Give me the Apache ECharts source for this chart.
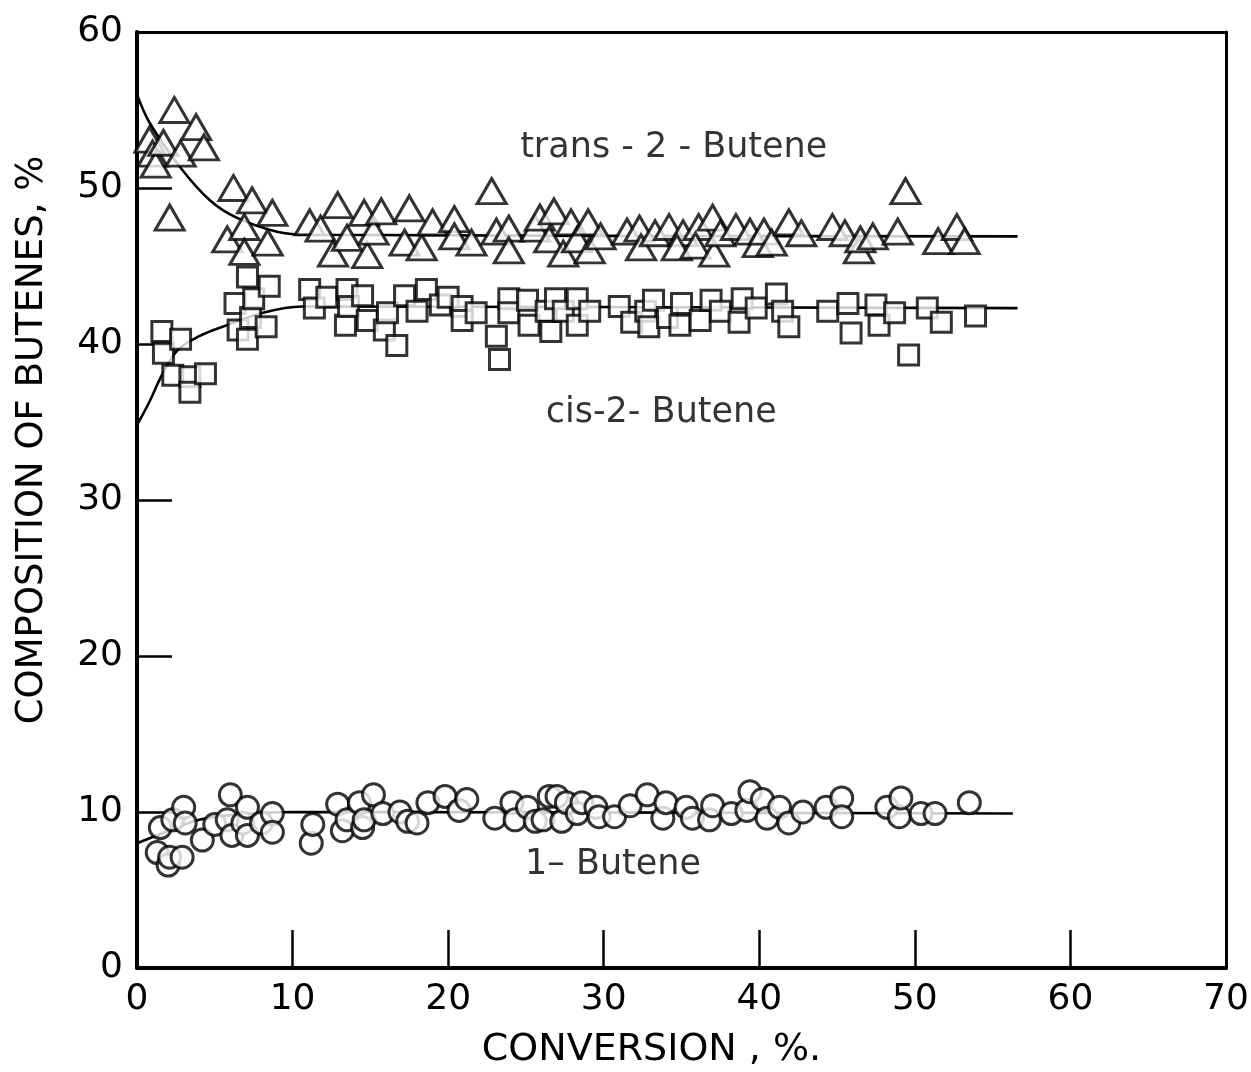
<!DOCTYPE html>
<html>
<head>
<meta charset="utf-8">
<title>Composition of butenes vs conversion</title>
<script src="https://cdn.jsdelivr.net/npm/echarts@6/dist/echarts.min.js"></script>
<style>
  html, body { margin: 0; padding: 0; background: #fff; }
  #chart { width: 1251px; height: 1072px; }
</style>
</head>
<body>
<div id="chart"></div>
<script>
// Measured butene composition (%) against conversion (%)
const transButene = [
  [0.8, 53.1], [1.0, 52.2], [1.2, 51.5], [1.7, 52.9], [2.1, 48.1], [2.4, 55.0],
  [2.8, 52.2], [3.8, 53.9], [4.3, 52.6],
  [5.8, 46.7], [6.2, 50.0], [6.9, 47.5], [6.9, 45.9], [7.4, 49.2], [8.4, 46.5], [8.7, 48.4],
  [11.1, 47.8], [11.8, 47.4], [12.6, 45.8], [12.9, 48.9], [13.5, 46.8], [14.6, 48.4],
  [14.8, 45.7], [15.2, 47.2], [15.7, 48.5], [17.2, 46.5], [17.5, 48.7], [18.3, 46.2],
  [19.0, 47.8], [20.4, 48.0], [20.4, 46.9], [21.5, 46.5], [22.8, 49.8],
  [23.1, 47.2], [23.9, 47.4], [23.9, 46.0], [25.6, 47.4], [25.9, 48.1], [26.8, 48.5],
  [26.5, 46.7], [27.4, 45.8], [27.9, 47.8], [28.3, 46.7], [29.0, 47.8], [29.1, 46.0],
  [29.8, 46.9], [31.5, 47.2], [32.3, 47.4], [32.4, 46.2], [33.3, 47.1], [34.2, 47.5],
  [35.1, 47.1], [34.7, 46.2], [36.1, 47.5], [35.9, 46.3], [37.0, 48.1], [37.1, 45.8],
  [37.5, 47.1], [38.5, 47.5], [39.4, 47.2], [39.9, 46.4], [40.3, 47.2], [40.8, 46.5],
  [41.9, 47.8], [42.7, 47.1], [44.7, 47.5], [45.5, 47.1], [46.4, 46.0], [46.5, 46.7],
  [47.3, 46.9], [48.9, 47.2], [49.4, 49.8], [51.5, 46.6], [52.7, 47.5], [53.2, 46.6]
];

const cisButene = [
  [1.6, 40.8], [1.7, 39.4], [2.8, 40.3], [2.3, 38.0], [3.4, 37.9], [3.4, 36.9], [4.4, 38.1],
  [6.3, 42.6], [6.5, 40.9], [7.1, 44.3], [7.1, 40.3], [7.3, 41.7], [7.5, 42.9], [8.3, 41.1], [8.5, 43.7],
  [11.1, 43.5], [11.4, 42.3], [12.2, 43.0], [13.4, 41.2], [13.5, 43.5], [13.6, 42.4],
  [14.5, 43.1], [14.8, 41.5], [15.9, 40.9], [16.1, 42.0], [16.7, 39.9], [17.2, 43.1],
  [18.0, 42.1], [18.6, 43.5], [19.5, 42.5], [20.0, 43.0], [20.9, 42.4], [20.9, 41.5],
  [21.8, 42.0], [23.1, 40.5], [23.3, 39.0], [23.9, 42.9], [23.9, 42.0], [25.1, 42.8],
  [25.2, 41.2], [26.3, 42.1], [26.6, 40.8], [26.9, 42.9], [27.4, 42.1], [28.3, 42.9],
  [28.3, 41.2], [29.1, 42.1], [31.0, 42.4], [31.8, 41.4], [32.7, 42.1], [32.9, 41.1],
  [33.2, 42.8], [34.1, 41.7], [35.0, 42.6], [34.9, 41.2], [36.2, 41.5], [36.9, 42.8],
  [37.5, 42.1], [38.7, 41.4], [38.9, 42.9], [39.8, 42.3], [41.1, 43.2], [41.5, 42.1],
  [41.9, 41.1], [44.4, 42.1], [45.7, 42.6], [45.9, 40.7], [47.5, 42.5], [47.7, 41.2],
  [48.7, 42.0], [49.6, 39.3], [50.8, 42.3], [51.7, 41.4], [53.9, 41.8]
];

const butene1 = [
  [1.5, 9.0], [1.3, 7.4], [2.0, 6.6], [2.1, 7.1], [2.3, 9.5], [2.9, 7.1], [3.0, 10.3], [3.1, 9.3],
  [4.2, 8.2], [5.0, 9.2], [5.8, 9.5], [6.0, 11.1], [6.1, 8.5], [6.8, 9.3], [7.1, 10.3],
  [7.1, 8.5], [8.0, 9.3], [8.7, 9.9], [8.7, 8.7],
  [11.2, 8.0], [11.3, 9.2], [12.9, 10.5], [13.2, 8.8], [13.5, 9.5], [14.3, 10.6],
  [14.5, 9.0], [14.6, 9.5], [15.2, 11.1], [15.8, 9.9], [16.9, 10.0], [17.4, 9.4],
  [18.0, 9.3], [18.7, 10.6], [19.8, 11.0], [20.7, 10.1], [21.2, 10.8],
  [23.0, 9.6], [24.1, 10.6], [24.3, 9.5], [25.1, 10.3], [25.6, 9.4], [26.1, 9.5], [26.5, 11.0],
  [27.0, 11.0], [27.3, 9.4], [27.6, 10.6], [28.3, 9.9], [28.6, 10.6], [29.5, 10.3],
  [29.7, 9.7], [30.7, 9.7], [31.7, 10.4], [32.8, 11.1], [33.8, 9.6], [34.0, 10.6],
  [35.3, 10.3], [35.7, 9.6], [36.8, 9.5], [37.0, 10.4], [38.2, 9.9], [39.2, 10.1],
  [39.4, 11.3], [40.2, 10.8], [40.5, 9.6], [41.3, 10.3], [41.9, 9.3], [42.8, 10.0],
  [44.3, 10.3], [45.3, 10.9], [45.3, 9.7], [48.2, 10.3], [49.0, 9.7], [49.1, 10.9],
  [50.4, 9.9], [51.3, 9.9], [53.5, 10.6]
];

// Hand-drawn smoothing curves through each set
const transCurve = [[0, 56.0], [0.8, 54.2], [2.8, 51.3], [4.7, 49.2], [6.4, 48.1], [9.0, 47.2], [11.0, 47.0], [56.6, 46.9]];
const cisCurve = [[0, 34.8], [0.8, 36.3], [1.6, 38.0], [2.6, 39.6], [4.0, 40.5], [5.5, 41.1], [8.1, 42.0], [10.6, 42.4], [56.6, 42.3]];
const butene1Curve = [[0, 8.0], [2.3, 8.9], [4.0, 9.5], [6.0, 9.8], [10.0, 10.0], [56.3, 9.9]];

// Curve labels placed in data coordinates
const curveLabels = [
  { name: 'trans - 2 - Butene', value: [34.5, 52.6] },
  { name: 'cis-2- Butene', value: [33.7, 35.6] },
  { name: '1– Butene', value: [30.6, 6.6] }
];

const xTickValues = [0, 10, 20, 30, 40, 50, 60, 70];
const yTickValues = [0, 10, 20, 30, 40, 50, 60];

const FONT = 'DejaVu Sans';
const INK = '#000';

const chart = echarts.init(document.getElementById('chart'), null, { renderer: 'canvas' });

const markerStyle = { color: '#fff', borderColor: INK, borderWidth: 3 };
const curveStyle = { color: INK, width: 2.6 };

chart.setOption({
  backgroundColor: '#fff',
  animation: false,
  grid: { left: 137, right: 25, top: 32, bottom: 104, containLabel: false, outerBoundsMode: 'none' },
  xAxis: [{
    type: 'value', min: 0, max: 70, interval: 10,
    name: 'CONVERSION , %.', nameLocation: 'middle', nameGap: 82, nameMoveOverlap: false,
    nameTextStyle: { fontFamily: FONT, fontSize: 38, color: INK, verticalAlign: 'middle', padding: [0, 60, 0, 0] },
    axisLine: { show: true, onZero: false, lineStyle: { color: INK, width: 4 } },
    axisTick: { show: true, inside: true, length: 38, lineStyle: { color: INK, width: 2.5 } },
    axisLabel: {
      fontFamily: FONT, fontSize: 36, color: INK, margin: 14,
      formatter: v => xTickValues.includes(v) ? String(v) : ''
    },
    splitLine: { show: false }
  }, {
    type: 'value', min: 0, max: 70, position: 'top',
    axisLine: { show: true, onZero: false, lineStyle: { color: INK, width: 3 } },
    axisTick: { show: false }, axisLabel: { show: false }, splitLine: { show: false }
  }],
  yAxis: [{
    type: 'value', min: 0, max: 60, interval: 10,
    name: 'COMPOSITION OF BUTENES, %', nameLocation: 'middle', nameGap: 105, nameRotate: 90, nameMoveOverlap: false,
    nameTextStyle: { fontFamily: FONT, fontSize: 37, color: INK, verticalAlign: 'middle', padding: [0, 0, 0, 120] },
    axisLine: { show: true, onZero: false, lineStyle: { color: INK, width: 4 } },
    axisTick: { show: true, inside: true, length: 35, lineStyle: { color: INK, width: 2.5 } },
    axisLabel: {
      fontFamily: FONT, fontSize: 36, color: INK, margin: 14,
      formatter: v => yTickValues.includes(v) ? String(v) : ''
    },
    splitLine: { show: false }
  }, {
    type: 'value', min: 0, max: 60, position: 'right',
    axisLine: { show: true, onZero: false, lineStyle: { color: INK, width: 3 } },
    axisTick: { show: false }, axisLabel: { show: false }, splitLine: { show: false }
  }],
  series: [
    { name: 'trans fit', type: 'line', data: transCurve, smooth: 0.35, showSymbol: false, symbol: 'none', lineStyle: curveStyle, z: 1 },
    { name: 'cis fit', type: 'line', data: cisCurve, smooth: 0.35, showSymbol: false, symbol: 'none', lineStyle: curveStyle, z: 1 },
    { name: '1-butene fit', type: 'line', data: butene1Curve, smooth: 0.35, showSymbol: false, symbol: 'none', lineStyle: curveStyle, z: 1 },
    { name: 'trans-2-Butene', type: 'scatter', data: transButene, symbol: 'triangle', symbolSize: [29, 25], itemStyle: markerStyle, z: 3 },
    { name: 'cis-2-Butene', type: 'scatter', data: cisButene, symbol: 'rect', symbolSize: 20, itemStyle: markerStyle, z: 3 },
    { name: '1-Butene', type: 'scatter', data: butene1, symbol: 'circle', symbolSize: 22, itemStyle: markerStyle, z: 3 },
    {
      name: 'labels', type: 'scatter', data: curveLabels, symbolSize: 0, silent: true, z: 4,
      label: {
        show: true, position: 'inside', formatter: p => p.name,
        fontFamily: FONT, fontSize: 35, color: INK
      }
    }
  ]
});
</script>
</body>
</html>
